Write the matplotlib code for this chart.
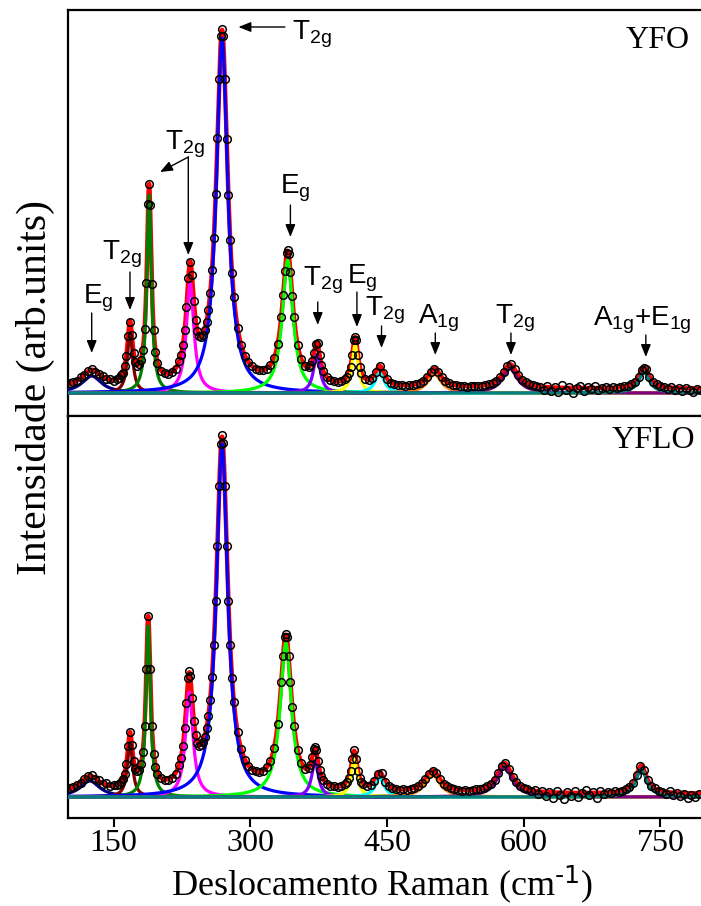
import numpy as np
import matplotlib

matplotlib.use("Agg")
import matplotlib.pyplot as plt

plt.rcParams["font.family"] = ["Liberation Serif", "DejaVu Serif"]
plt.rcParams["mathtext.default"] = "regular"

# Lorentzian components of each fit: centre (cm-1), height, half width at half maximum.
MODE_COLORS = ["#000080", "#800000", "#008000", "#ff00ff", "#0000ff", "#00ff00",
               "#8000ff", "#ffff00", "#00ffff", "#ff8000", "#800080", "#008080"]

YFO_CENTERS = [126, 168, 189, 234, 269, 341, 373, 415, 442, 502, 585, 732]
YFO_HEIGHTS = [17, 60, 198, 110, 355, 133, 38, 48, 20, 19, 24, 21]
YFO_HWHM = [13, 3.5, 3, 5, 7.5, 7, 4.5, 4, 6, 9, 10, 7]
YFO_BACKGROUND = 4

YFLO_CENTERS = [124, 168, 188, 233, 269, 339, 371, 414, 442, 500, 579, 729]
YFLO_HEIGHTS = [16, 54, 171, 105, 353, 154, 35, 39, 19, 22, 30, 28]
YFLO_HWHM = [13, 3.5, 3, 5, 7.5, 7.5, 4.5, 4, 6, 10, 10, 7]
YFLO_BACKGROUND = 3

YFO_SHIFT = [
    102, 106, 110, 114, 118, 122, 126, 130, 134, 138,
    142, 146, 150, 154, 156, 158, 160, 162, 164, 166,
    168, 170, 172, 174, 176, 178, 180, 182, 184, 186,
    188, 189, 190, 192, 194, 196, 198, 202, 206, 210,
    214, 218, 222, 224, 226, 228, 230, 232, 234, 236,
    238, 240, 242, 244, 246, 248, 250, 252, 254, 256,
    258, 260, 262, 264, 266, 268, 269, 270, 272, 274,
    276, 278, 280, 282, 286, 290, 294, 298, 302, 306,
    310, 314, 318, 322, 326, 330, 334, 336, 338, 340,
    341, 342, 344, 346, 348, 352, 356, 360, 364, 366,
    368, 370, 372, 374, 376, 378, 380, 384, 388, 392,
    396, 400, 404, 406, 408, 410, 412, 414, 415, 416,
    418, 420, 422, 426, 430, 434, 438, 442, 446, 450,
    454, 458, 462, 466, 470, 474, 478, 482, 486, 490,
    494, 498, 502, 506, 510, 514, 518, 522, 526, 530,
    534, 538, 542, 546, 550, 554, 558, 562, 566, 570,
    574, 578, 582, 586, 590, 594, 598, 602, 606, 610,
    614, 618, 622, 626, 630, 634, 638, 642, 646, 650,
    654, 658, 662, 666, 670, 674, 678, 682, 686, 690,
    694, 698, 702, 706, 710, 714, 718, 722, 726, 730,
    732, 734, 738, 742, 746, 750, 754, 758, 762, 766,
    770, 774, 778, 782, 786, 790, 794,
]
YFO_COUNTS = [
    10, 11, 12, 16, 18, 22, 24, 21, 19, 17,
    14, 14, 12, 14, 15, 18, 20, 27, 37, 57,
    71, 58, 40, 31, 27, 29, 33, 43, 64, 110,
    189, 209, 188, 109, 63, 41, 30, 22, 20, 19,
    21, 24, 32, 38, 48, 63, 86, 115, 131, 118,
    92, 73, 62, 57, 56, 58, 63, 71, 83, 100,
    123, 155, 199, 255, 314, 357, 364, 357, 314, 254,
    198, 153, 120, 96, 65, 48, 37, 31, 27, 24,
    23, 23, 24, 28, 35, 49, 76, 98, 122, 140,
    143, 139, 121, 97, 76, 48, 34, 27, 26, 28,
    32, 40, 49, 50, 38, 28, 22, 16, 13, 12,
    11, 12, 14, 16, 20, 26, 38, 53, 56, 53,
    38, 26, 20, 14, 13, 15, 21, 27, 20, 14,
    10, 9, 8, 8, 7, 8, 8, 9, 10, 12,
    16, 21, 24, 21, 16, 12, 10, 8, 8, 7,
    7, 6, 7, 7, 7, 7, 8, 9, 10, 12,
    16, 21, 27, 29, 24, 18, 13, 11, 9, 8,
    7, 6, 3, 7, 2, 6, 1, 8, 3, 6,
    0, 5, 7, 2, 6, 4, 7, 3, 5, 6,
    4, 6, 5, 6, 7, 7, 9, 11, 16, 23,
    25, 24, 16, 11, 9, 7, 6, 4, 6, 3,
    5, 2, 5, 3, 1, 4, 3,
]

YFLO_SHIFT = [
    102, 106, 110, 114, 118, 122, 126, 130, 134, 138,
    142, 146, 150, 154, 156, 158, 160, 162, 164, 166,
    168, 170, 172, 174, 176, 178, 180, 182, 184, 186,
    188, 190, 192, 194, 196, 198, 202, 206, 210, 214,
    218, 222, 224, 226, 228, 230, 232, 233, 234, 236,
    238, 240, 242, 244, 246, 248, 250, 252, 254, 256,
    258, 260, 262, 264, 266, 268, 269, 270, 272, 274,
    276, 278, 280, 282, 286, 290, 294, 298, 302, 306,
    310, 314, 318, 322, 326, 330, 334, 336, 338, 339,
    340, 342, 344, 346, 348, 352, 356, 360, 364, 366,
    368, 370, 371, 372, 374, 376, 378, 380, 384, 388,
    392, 396, 400, 404, 406, 408, 410, 412, 414, 416,
    418, 420, 422, 424, 428, 432, 436, 440, 444, 448,
    452, 456, 460, 464, 468, 472, 476, 480, 484, 488,
    492, 496, 500, 504, 508, 512, 516, 520, 524, 528,
    532, 536, 540, 544, 548, 552, 556, 560, 564, 568,
    572, 576, 580, 584, 588, 592, 596, 600, 604, 608,
    612, 616, 620, 624, 628, 632, 636, 640, 644, 648,
    652, 656, 660, 664, 668, 672, 676, 680, 684, 688,
    692, 696, 700, 704, 708, 712, 716, 720, 724, 728,
    732, 736, 740, 744, 748, 752, 756, 760, 764, 768,
    772, 776, 780, 784, 788, 792,
]
YFLO_COUNTS = [
    9, 10, 12, 14, 18, 21, 22, 18, 17, 13,
    14, 11, 12, 12, 13, 15, 18, 23, 33, 51,
    65, 52, 36, 28, 26, 27, 33, 45, 71, 128,
    181, 128, 71, 43, 30, 23, 19, 17, 17, 19,
    23, 32, 39, 51, 69, 94, 119, 126, 121, 99,
    76, 62, 54, 51, 52, 55, 60, 69, 81, 97,
    120, 152, 196, 251, 311, 353, 362, 354, 311, 251,
    196, 152, 119, 95, 65, 48, 37, 31, 27, 26,
    25, 26, 30, 36, 49, 73, 115, 141, 160, 163,
    160, 141, 115, 90, 71, 47, 34, 28, 29, 32,
    40, 48, 50, 47, 36, 27, 21, 17, 13, 11,
    11, 10, 11, 13, 15, 19, 26, 38, 47, 38,
    26, 19, 15, 13, 11, 12, 16, 23, 24, 15,
    11, 9, 8, 7, 8, 7, 8, 9, 11, 14,
    18, 23, 26, 24, 18, 13, 11, 9, 8, 7,
    6, 7, 6, 7, 8, 8, 9, 11, 13, 17,
    24, 31, 34, 28, 20, 15, 11, 9, 8, 6,
    7, 3, 6, 1, 5, -1, 6, 2, -2, 5,
    1, 6, 0, 4, 7, 2, 5, -1, 6, 3,
    5, 4, 6, 5, 6, 8, 10, 14, 22, 31,
    27, 17, 11, 9, 6, 5, 3, 6, 2, 4,
    1, 3, -1, 2, 0, 3,
]

X_TICKS = [150, 300, 450, 600, 750]

# Mode assignments marked on the YFO spectrum.
YFO_MODE_LABELS = ["T$_{2g}$", "T$_{2g}$", "E$_{g}$", "T$_{2g}$", "E$_{g}$", "T$_{2g}$",
                   "E$_{g}$", "T$_{2g}$", "A$_{1g}$", "T$_{2g}$", "A$_{1g}$+E$_{1g}$"]


def draw_panel(ax, shift, counts, centers, heights, hwhm, background):
    grid = np.linspace(100, 800, 2801)
    parts = [h / (1 + ((grid - c) / w) ** 2) for c, h, w in zip(centers, heights, hwhm)]
    ax.plot(grid, background + np.sum(parts, axis=0), color="#ff0000", lw=3.2, zorder=2)
    for part, color in zip(parts, MODE_COLORS):
        ax.plot(grid, part, color=color, lw=2.3, zorder=3)
    ax.plot(shift, counts, "o", ms=5.5, mfc="none", mec="black", mew=1.1, zorder=4)
    ax.set_xlim(100, 800)
    for side in ("top", "bottom", "left", "right"):
        ax.spines[side].set_linewidth(1.6)
    ax.set_yticks([])


fig = plt.figure(figsize=(7.01, 9.06), dpi=100)
ax_top = fig.add_axes([68 / 701, 1 - 416 / 906, 638 / 701, 406 / 906])
ax_bot = fig.add_axes([68 / 701, 1 - 818 / 906, 638 / 701, 402 / 906])

draw_panel(ax_top, YFO_SHIFT, YFO_COUNTS, YFO_CENTERS, YFO_HEIGHTS, YFO_HWHM, YFO_BACKGROUND)
draw_panel(ax_bot, YFLO_SHIFT, YFLO_COUNTS, YFLO_CENTERS, YFLO_HEIGHTS, YFLO_HWHM,
           YFLO_BACKGROUND)
ax_top.set_ylim(-23, 383)
ax_bot.set_ylim(-21, 381)

ax_top.tick_params(axis="x", bottom=False, labelbottom=False)
ax_bot.set_xticks(X_TICKS)
ax_bot.tick_params(axis="x", direction="out", length=6.5, width=1.5, labelsize=23, pad=1.5)
fig.text(382 / 701, 1 - 895 / 906, r"Deslocamento Raman (cm$^{\text{-1}}$)",
         ha="center", va="baseline", fontsize=26)
fig.text(35 / 701, 1 - 387 / 906, "Intensidade (arb.units)", rotation=90,
         ha="center", va="center", fontsize=30)

ax_top.text(0.975, 0.926, "YFO", transform=ax_top.transAxes, ha="right", va="center",
            fontsize=23)
ax_bot.text(0.983, 0.94, "YFLO", transform=ax_bot.transAxes, ha="right", va="center",
            fontsize=23)

# text anchor (baseline left) and arrows (tail, head) for each label
label_pos = [(346, 354), (206, 243), (333, 200), (137, 133), (116, 90), (358, 107),
             (406, 110), (426, 78), (484, 70), (568, 70), (676, 67)]
arrows = [
    ((338, 366), (287, 366)),
    ((232, 236), (201, 221)),
    ((232, 236), (232, 138)),
    ((344, 188), (344, 156)),
    ((168, 121), (168, 83)),
    ((126, 80), (126, 40)),
    ((374, 91), (374, 68)),
    ((417, 101), (417, 66)),
    ((444, 67), (444, 45)),
    ((503, 60), (503, 38)),
    ((586, 60), (586, 38)),
    ((734, 58), (734, 36)),
]
for label, (tx, ty) in zip(YFO_MODE_LABELS, label_pos):
    ax_top.text(tx, ty, label, ha="left", va="baseline", fontsize=20,
                family=["Liberation Sans", "DejaVu Sans"], zorder=6)
for tail, head in arrows:
    ax_top.annotate("", xy=head, xytext=tail, zorder=6,
                    arrowprops=dict(arrowstyle="-|>,head_length=0.5,head_width=0.2",
                                    color="black", lw=1.0, mutation_scale=15,
                                    shrinkA=0, shrinkB=0))

fig.savefig("out.png", dpi=100)
plt.close(fig)
